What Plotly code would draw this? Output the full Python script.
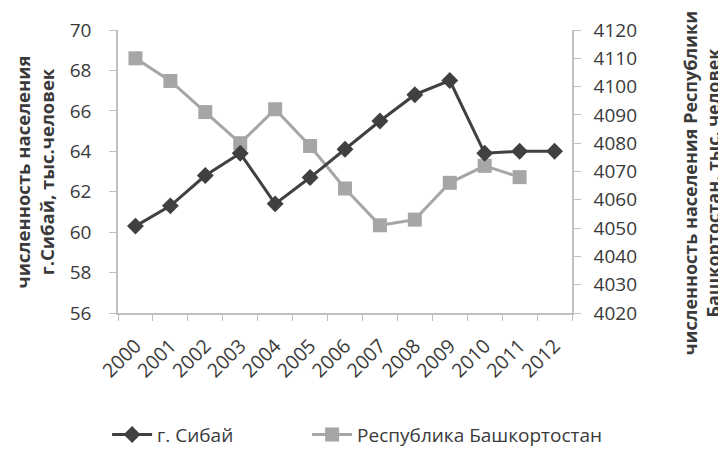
import plotly.graph_objects as go

years = ["2000", "2001", "2002", "2003", "2004", "2005", "2006",
         "2007", "2008", "2009", "2010", "2011", "2012"]
sibay = [60.3, 61.3, 62.8, 63.9, 61.4, 62.7, 64.1, 65.5, 66.8, 67.5, 63.9, 64.0, 64.0]
bashkortostan = [4110, 4102, 4091, 4080, 4092, 4079, 4064, 4051, 4053, 4066, 4072, 4068, None]

left_ticks = [56, 58, 60, 62, 64, 66, 68, 70]
right_ticks = [4020, 4030, 4040, 4050, 4060, 4070, 4080, 4090, 4100, 4110, 4120]

font_family = "Open Sans, Noto Sans, DejaVu Sans, sans-serif"
axis_color = "#bfbfbf"
text_color = "#3a3a3a"

fig = go.Figure()
fig.add_trace(go.Scatter(
    x=years, y=sibay, name="г. Сибай", yaxis="y2", mode="lines+markers",
    legend="legend",
    line=dict(color="#404040", width=3),
    marker=dict(symbol="diamond", size=13, color="#404040"),
))
fig.add_trace(go.Scatter(
    x=years, y=bashkortostan, name="Республика Башкортостан", yaxis="y",
    mode="lines+markers", legend="legend2",
    line=dict(color="#a6a6a6", width=3),
    marker=dict(symbol="square", size=14, color="#a6a6a6"),
))

legend_common = dict(orientation="h", yanchor="middle", xanchor="left",
                     font=dict(size=19, color=text_color), itemwidth=40,
                     bgcolor="rgba(0,0,0,0)")

fig.update_layout(
    width=726, height=462,
    margin=dict(l=110, r=162, t=22, b=157),
    paper_bgcolor="white", plot_bgcolor="white",
    font=dict(family=font_family, color=text_color, size=15),
    showlegend=True,
    legend=dict(x=-0.024, y=-0.43, **legend_common),
    legend2=dict(x=0.4165, y=-0.43, **legend_common),
    xaxis=dict(type="category", range=[-0.5, 12.5], tickson="boundaries",
               ticks="outside", ticklen=6, tickcolor=axis_color,
               showline=True, linecolor=axis_color, linewidth=1.5,
               showgrid=False, tickangle=-45, tickfont=dict(size=19.5),
               ticklabelstandoff=12, automargin=False),
    yaxis=dict(side="right", range=[4020, 4120], tickvals=right_ticks,
               ticks="outside", ticklen=7, tickcolor=axis_color,
               showline=True, linecolor=axis_color, linewidth=1.5,
               showgrid=False, zeroline=False, tickfont=dict(size=19),
               ticklabelstandoff=9, automargin=False),
    yaxis2=dict(side="left", overlaying="y", range=[56, 70], tickvals=left_ticks,
                ticks="outside", ticklen=7, tickcolor=axis_color,
                showline=True, linecolor=axis_color, linewidth=1.5,
                showgrid=False, zeroline=False, tickfont=dict(size=19),
                ticklabelstandoff=14, automargin=False),
    yaxis3=dict(side="right", overlaying="y", range=[4020, 4120], tickvals=right_ticks,
                ticks="inside", ticklen=6, tickcolor=axis_color,
                showticklabels=False, showline=False, showgrid=False,
                zeroline=False, automargin=False),
)

fig.add_annotation(
    text="<b>численность населения<br>г.Сибай, тыс.человек</b>",
    xref="paper", yref="paper", x=-0.183, y=0.5, xanchor="center", yanchor="middle",
    textangle=-90, showarrow=False, font=dict(size=18.5, color=text_color),
)
fig.add_annotation(
    text="<b>численность населения Республики<br>Башкортостан, тыс. человек</b>",
    xref="paper", yref="paper", x=1.285, y=0.46, xanchor="center", yanchor="middle",
    textangle=-90, showarrow=False, font=dict(size=18, color=text_color),
)

fig.write_html("out.html")
